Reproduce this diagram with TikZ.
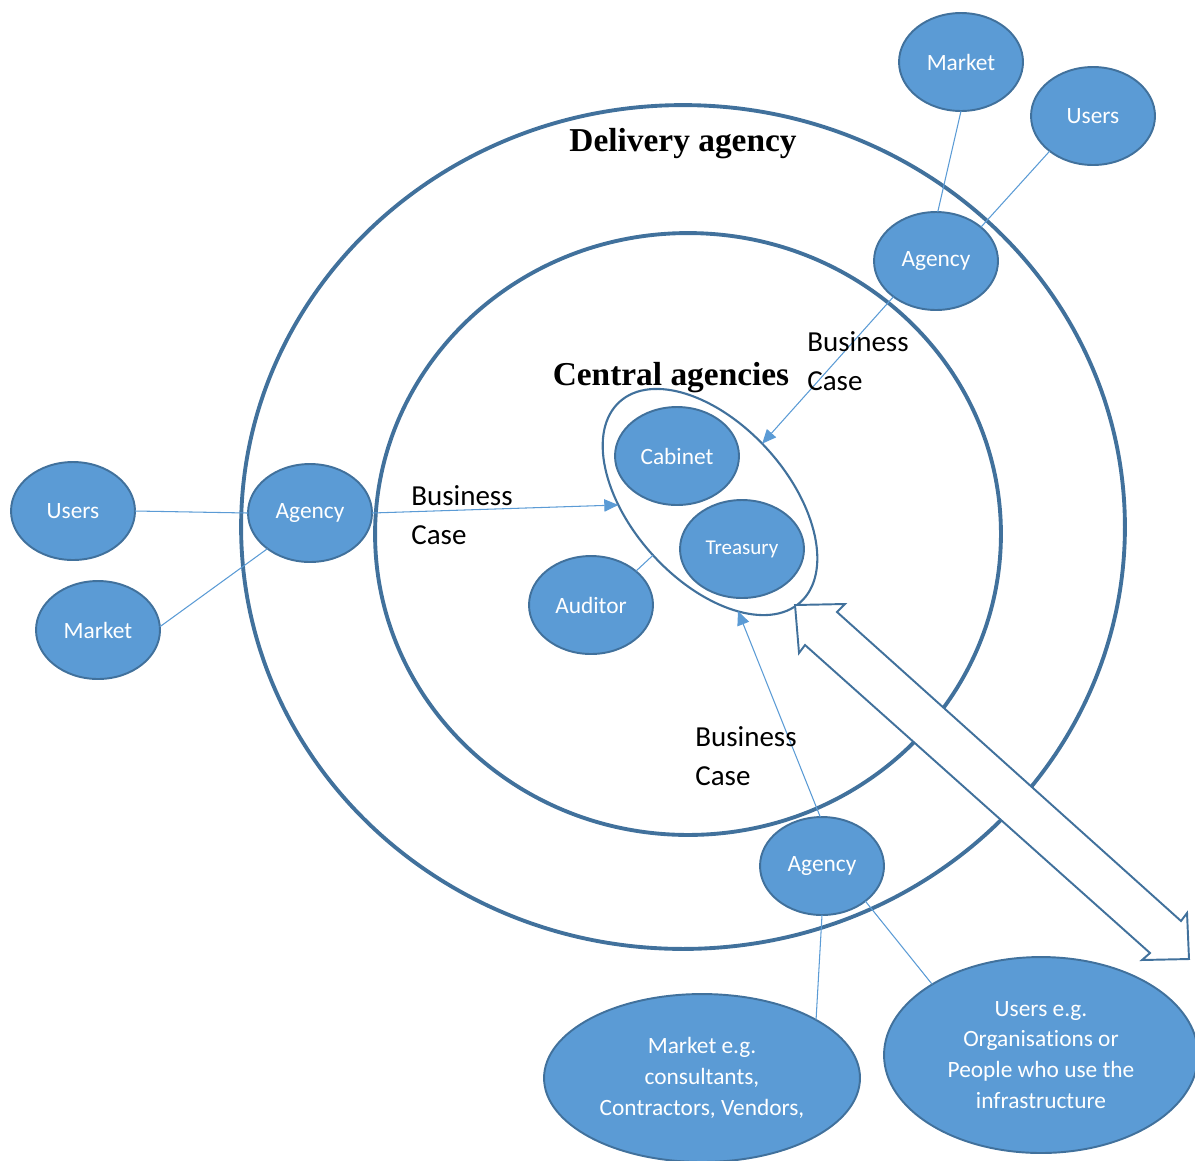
\documentclass[tikz,border=0pt]{standalone}
\usepackage{fontspec}
\setmainfont{Carlito}[Ligatures=NoCommon]
\newfontfamily\headfont{Liberation Serif}
\usetikzlibrary{shapes.geometric,arrows.meta}
\definecolor{blobfill}{HTML}{5B9BD5}
\definecolor{blobedge}{HTML}{41719C}
\definecolor{ringedge}{HTML}{41719C}
\definecolor{linkblue}{HTML}{5B9BD5}
\begin{document}
\begin{tikzpicture}[x=0.02cm,y=-0.02cm,
  ring/.style={draw=ringedge, line width=2.2pt},
  blob/.style={ellipse, draw=blobedge, fill=blobfill, line width=1.1pt,
    text=white, inner sep=0pt, outer sep=0pt, align=center,
    font=\fontsize{13.3pt}{17.6pt}\selectfont,
    minimum width=2.48cm, minimum height=1.96cm},
  coreshape/.style={ellipse, draw=blobedge, line width=1.2pt, inner sep=0pt,
    outer sep=0pt, minimum width=5.4cm, minimum height=3.12cm, rotate=-48},
  link/.style={draw=linkblue, line width=0.6pt},
  linkarrow/.style={link, -{Triangle[length=8pt,width=7pt]}},
  heading/.style={font=\headfont\bfseries\fontsize{19pt}{22pt}\selectfont, inner sep=0pt},
  bcase/.style={font=\fontsize{16.5pt}{22pt}\selectfont, align=left, anchor=west, inner sep=0pt},
  bigarrow/.style={draw=blobedge, fill=white, line width=1.1pt, line join=miter}]
\useasboundingbox (0,0) rectangle (1195,1160);
\clip (0,0) rectangle (1195,1160);

% concentric rings
\draw[ring] (683,527) ellipse [x radius=8.84cm, y radius=8.44cm];
\draw[ring] (688,534) ellipse [x radius=6.26cm, y radius=6.02cm];

% ring titles
\node[heading, anchor=base] (delhead) at (683,151) {Delivery agency};
\node[heading, anchor=base] (cenhead) at (671,385) {Central agencies};

% central group
\node[coreshape] (core) at (710,502) {};
\coordinate (coreS) at (738,611);
\node[blob] (cabinet) at (677,456) {Cabinet};
\node[blob, font=\fontsize{12pt}{14pt}\selectfont] (treasury) at (742,549) {Treasury};
\node[blob] (auditor) at (591,605) {Auditor};

% agencies and their markets / users
\node[blob] (agencyT) at (936,261) {Agency};
\node[blob] (marketT) at (961,62) {Market};
\node[blob] (usersT) at (1093,116) {Users};

\node[blob] (agencyL) at (310,513) {Agency};
\node[blob] (usersL) at (73,511) {Users};
\node[blob] (marketL) at (98,630) {Market};

\node[blob] (agencyB) at (822,866) {Agency};
\node[blob, minimum width=6.32cm, minimum height=3.36cm] (marketB) at (702,1078)
  {Market e.g.\\consultants,\\Contractors, Vendors,};
\node[blob, minimum width=6.28cm, minimum height=3.92cm] (usersB) at (1041,1055)
  {Users e.g.\\Organisations or\\People who use the\\infrastructure};

% links
\draw[link] (marketT.270) -- (agencyT.88);
\draw[link] (usersT.219) -- (agencyT.37);
\draw[link] (usersL.east) -- (agencyL.west);
\draw[link] (marketL.3) -- (agencyL.220);
\draw[link] (auditor.37) -- (core);
\draw[link] (agencyB.270) -- (marketB.27);
\draw[link] (agencyB.321) -- (usersB.147);

% business cases flowing to the centre
\draw[linkarrow] (agencyT.220) -- (core);
\draw[linkarrow] (agencyL.east) -- (core);
\draw[linkarrow] (agencyB.92) -- (coreS);

\node[bcase] (bcT) at (807,361) {Business\\Case};
\node[bcase] (bcL) at (411,515) {Business\\Case};
\node[bcase] (bcB) at (695,756) {Business\\Case};

% two-way block arrow
\draw[bigarrow] (795,605) -- (845,604) -- (837,612) -- (1181,921) -- (1187,913)
  -- (1189,959) -- (1142,960) -- (1150,953) -- (805,645) -- (799,653) -- cycle;
\end{tikzpicture}
\end{document}
